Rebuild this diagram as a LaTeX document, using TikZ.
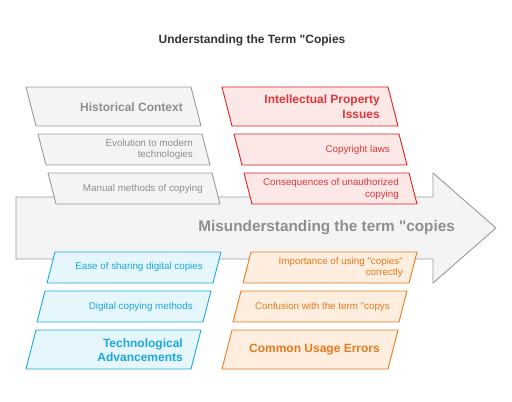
\documentclass[tikz,border=0pt]{standalone}
\usepackage{fontspec}
\setmainfont{Liberation Sans}
\begin{document}
\begin{tikzpicture}[x=1pt,y=-1pt,
  grayc/.style={draw=boxgray,fill=fillgray,line width=0.9pt,line join=round},
  redc/.style={draw=boxred,fill=fillred,line width=0.9pt,line join=round},
  bluec/.style={draw=boxblue,fill=fillblue,line width=0.9pt,line join=round},
  orangec/.style={draw=boxorange,fill=fillorange,line width=0.9pt,line join=round},
  big/.style={font=\fontsize{12}{14.5}\selectfont\bfseries,align=right,anchor=east,inner sep=0pt},
  small/.style={font=\fontsize{9.8}{11.2}\selectfont,align=right,anchor=east,inner sep=0pt}]
\definecolor{boxgray}{HTML}{9A9A9A}
\definecolor{fillgray}{HTML}{F4F4F4}
\definecolor{txtgray}{HTML}{8E8E8E}
\definecolor{boxred}{HTML}{E0201E}
\definecolor{fillred}{HTML}{FDE8E8}
\definecolor{txtred}{HTML}{E2363A}
\definecolor{boxblue}{HTML}{1BA7E0}
\definecolor{fillblue}{HTML}{E5F6FD}
\definecolor{boxorange}{HTML}{E77A1C}
\definecolor{fillorange}{HTML}{FDEEDF}
\useasboundingbox (0,0) rectangle (512,402);
% title
\node[font=\fontsize{12}{14}\selectfont\bfseries,text=black!80] (title) at (252,40) {Understanding the Term \textquotedbl Copies};
% main arrow
\draw[grayc] (16,197) -- (433,197) -- (433,173) -- (496,228) -- (433,283) -- (433,259) -- (16,259) -- cycle;
\node[font=\fontsize{15.3}{18}\selectfont\bfseries,text=txtgray,anchor=east,inner sep=0pt] (main) at (455,228) {Misunderstanding the term \textquotedbl copies};
% gray
\draw[grayc] (26,87) -- (191,87) -- (201,126) -- (36,126) -- cycle;
\draw[grayc] (38,134) -- (202,134) -- (210,165) -- (46,165) -- cycle;
\draw[grayc] (48,173) -- (212,173) -- (220,204) -- (56,204) -- cycle;
\node[big,text=txtgray] (g1) at (183,107) {Historical Context};
\node[small,text=txtgray] (g2) at (193,149.5) {Evolution to modern\\technologies};
\node[small,text=txtgray] (g3) at (203,189) {Manual methods of copying};
% red
\draw[redc] (222,87) -- (388,87) -- (398,126) -- (232,126) -- cycle;
\draw[redc] (234,134) -- (399,134) -- (407,165) -- (242,165) -- cycle;
\draw[redc] (244,173) -- (409,173) -- (417,204) -- (252,204) -- cycle;
\node[big,text=txtred] (r1) at (380,106.5) {Intellectual Property\\Issues};
\node[small,text=txtred] (r2) at (390,150) {Copyright laws};
\node[small,text=txtred] (r3) at (399,189) {Consequences of unauthorized\\copying};
% blue
\draw[bluec] (55,252) -- (221,252) -- (213,283) -- (47,283) -- cycle;
\draw[bluec] (45,291) -- (211,291) -- (203,322) -- (37,322) -- cycle;
\draw[bluec] (36,330) -- (201,330) -- (191,369) -- (26,369) -- cycle;
\node[small,text=boxblue] (b1) at (203,267) {Ease of sharing digital copies};
\node[small,text=boxblue] (b2) at (193,307) {Digital copying methods};
\node[big,text=boxblue] (b3) at (183,350) {Technological\\Advancements};
% orange
\draw[orangec] (251,252) -- (417,252) -- (409,283) -- (243,283) -- cycle;
\draw[orangec] (241,291) -- (407,291) -- (399,322) -- (233,322) -- cycle;
\draw[orangec] (232,330) -- (398,330) -- (388,369) -- (222,369) -- cycle;
\node[small,text=boxorange] (o1) at (403,267.5) {Importance of using \textquotedbl copies\textquotedbl\\correctly};
\node[small,text=boxorange] (o2) at (390,307) {Confusion with the term \textquotedbl copys};
\node[big,text=boxorange] (o3) at (380,350) {Common Usage Errors};
\end{tikzpicture}
\end{document}
